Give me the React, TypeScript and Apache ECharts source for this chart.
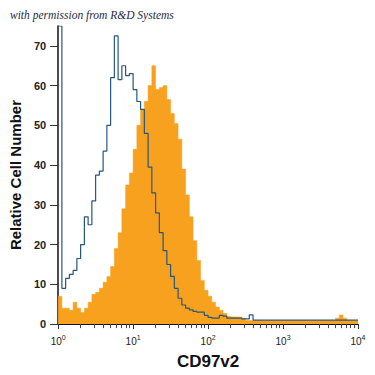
import React, { useEffect, useRef } from "react";
import * as echarts from "echarts";

// Histogram channels: 20 bins per decade from 10^0 to 10^4
const BINS_PER_DECADE = 20;
const X_MIN = 1;
const X_MAX = 10000;
const Y_MAX = 75;
const Y_TICKS = [0, 10, 20, 30, 40, 50, 60, 70];

const TITLE_X = "CD97v2";
const TITLE_Y = "Relative Cell Number";
const WATERMARK = "with permission from R&D Systems";

// Isotype control (open blue histogram)
const controlCounts = [
  75, 9, 11.5, 12.5, 13.5, 16.5, 20, 27, 25, 31,
  37.5, 38.5, 43.5, 50, 62, 72.5, 61.5, 65, 62.5, 63,
  59, 56, 54, 48, 39.5, 33, 28, 23, 18.5, 15,
  12, 9, 6.5, 4.8, 4, 3.6, 3.2, 3, 3, 2.2,
  1.7, 1.5, 1.5, 2.2, 2, 1.5, 1.5, 1.5, 1.5, 1.3,
  1.3, 2.3, 1, 1, 1, 1, 1, 1, 1, 1,
  1, 1, 1, 1, 1, 1, 1, 1, 1, 1,
  1, 1, 1, 1, 1, 1, 1, 1, 1, 1,
];

// CD97v2 stained (filled orange histogram)
const cd97Counts = [
  7, 4, 4, 3.5, 5.5, 4, 3, 4, 5.5, 7.5,
  8, 9, 10.5, 12, 14.5, 19, 23, 29, 35, 38,
  44, 50, 54, 56, 60, 65, 59, 59.5, 60, 56.5,
  53, 50.5, 46.5, 39, 32.5, 27, 21, 16, 11, 8.5,
  7, 5.5, 4.3, 3.5, 2.7, 2, 1.8, 1.8, 1.8, 1.5,
  0.9, 0.9, 0.9, 0.9, 0.9, 0.9, 0.9, 0.9, 0.9, 0.9,
  0.9, 0.9, 0.9, 0.9, 0.9, 0.9, 0.9, 0.9, 0.9, 0.9,
  0.9, 0.9, 0.9, 0.9, 1.5, 2.3, 1.5, 0.9, 0.9, 0.9,
];

const ORANGE = "#f7a11f";
const BLUE = "#28577d";

function toStepData(counts: number[]): number[][] {
  const pts = counts.map((c, i) => [Math.pow(10, i / BINS_PER_DECADE), c]);
  pts.push([Math.pow(10, counts.length / BINS_PER_DECADE), counts[counts.length - 1]]);
  return pts;
}

export default function App() {
  const ref = useRef<HTMLDivElement>(null);

  useEffect(() => {
    document.body.style.margin = "0";
    if (!ref.current) return;
    const chart = echarts.init(ref.current, undefined, { renderer: "svg" });
    const font = '"Liberation Sans", Arial, sans-serif';
    chart.setOption({
      animation: false,
      backgroundColor: "#ffffff",
      textStyle: { fontFamily: font },
      grid: { left: 56, right: 17, top: 26, bottom: 46 },
      graphic: [
        {
          type: "text",
          left: 10,
          top: 9,
          style: {
            text: WATERMARK,
            font: 'italic 11.5px "Liberation Serif", "DejaVu Serif", serif',
            fill: "#1e2a44",
          },
        },
      ],
      xAxis: {
        type: "log",
        logBase: 10,
        min: X_MIN,
        max: X_MAX,
        name: TITLE_X,
        nameLocation: "middle",
        nameGap: 25,
        nameTextStyle: { fontSize: 17, fontWeight: "bold", color: "#111", fontFamily: font },
        axisLine: { show: true, lineStyle: { color: "#111", width: 1.2 } },
        axisTick: { show: true, length: 5, lineStyle: { color: "#333" } },
        minorTick: { show: true, splitNumber: 9, length: 4, lineStyle: { color: "#444" } },
        splitLine: { show: false },
        minorSplitLine: { show: false },
        axisLabel: {
          margin: 10,
          color: "#222",
          fontSize: 10,
          formatter: (v: number) => `10{s|${Math.round(Math.log10(v))}}`,
          rich: {
            s: { fontSize: 7, verticalAlign: "top", lineHeight: 8, color: "#222" },
          },
          lineHeight: 14,
        },
      },
      yAxis: {
        type: "value",
        min: 0,
        max: Y_MAX,
        name: TITLE_Y,
        nameLocation: "middle",
        nameGap: 34,
        nameTextStyle: { fontSize: 15, fontWeight: "bold", color: "#111", fontFamily: font },
        axisLine: { show: true, lineStyle: { color: "#111", width: 1.5 } },
        axisTick: { show: true, length: 8, lineStyle: { color: "#333" }, customValues: Y_TICKS },
        splitLine: { show: false },
        axisLabel: {
          margin: 12,
          color: "#222",
          fontSize: 11,
          fontWeight: "bold",
          customValues: Y_TICKS,
        },
      },
      series: [
        {
          type: "line",
          step: "end",
          data: toStepData(cd97Counts),
          symbol: "none",
          lineStyle: { color: ORANGE, width: 0.5 },
          areaStyle: { color: ORANGE, opacity: 1 },
          z: 2,
        },
        {
          type: "line",
          step: "end",
          data: toStepData(controlCounts),
          symbol: "none",
          lineStyle: { color: BLUE, width: 1.2 },
          z: 3,
        },
      ],
    });
    return () => chart.dispose();
  }, []);

  return <div ref={ref} style={{ width: 375, height: 375 }} />;
}
